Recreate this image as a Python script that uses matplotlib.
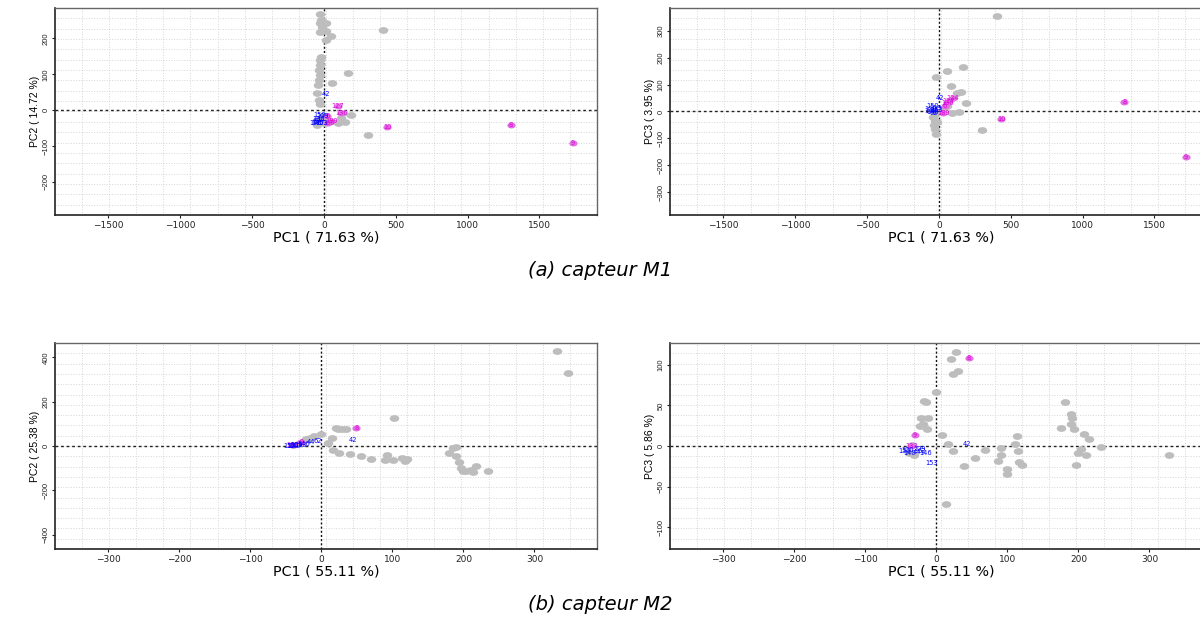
import numpy as np
import matplotlib
matplotlib.use("Agg")
import matplotlib.pyplot as plt
from matplotlib.markers import MarkerStyle
from matplotlib.transforms import Affine2D

plt.rcParams['font.family'] = ['DejaVu Sans']

# ---- data ----
# capteur M1, PC1 vs PC2
m1a_gray_x = [-30, -19, -30, 16, -12, 16, -30, 51, 16, 413, -19, -26, -30, -35, -30, -35, -40, -44,
              -35, -30, 168, 58, 133, 191, 121, 145, 98, 310, -50, -45, -20, -10, 5, 20]
m1a_gray_y = [268, 252, 243, 243, 233, 221, 219, 208, 196, 224, 149, 140, 126, 112, 98, 84, 70, 47,
              28, 16, 103, 75, -9, -14, -23, -33, -37, -68, -40, -30, -25, -20, -35, -30]
m1a_blue_lab = ["42", "150", "109", "100", "44", "140", "146", "153", "62"]
m1a_blue_x = [16, -30, -10, -35, -20, -42, -60, -15, -50]
m1a_blue_y = [44, -14, -16, -24, -28, -37, -37, -36, -30]
m1a_mag_lab = ["127", "136", "6", "189", "160", "10", "8", "9"]
m1a_mag_x = [98, 121, 23, 51, 30, 440, 1300, 1730]
m1a_mag_y = [12, -7, -17, -31, -35, -48, -42, -90]

# capteur M1, PC1 vs PC3
m1b_gray_x = [407, 166, 54, -21, 86, 153, 126, 188, 139, 91, 300, -40, -30, -35, -25, -20, -30, -15, 30, 60]
m1b_gray_y = [355, 165, 150, 127, 94, 72, 68, 32, -2, -6, -68, -22, -35, -50, -65, -84, -10, -40, 10, 20]
m1b_blue_lab = ["42", "150", "109", "100", "44", "140", "146", "153", "62"]
m1b_blue_x = [10, -40, -20, -55, -30, -60, -45, -15, -35]
m1b_blue_y = [50, 20, 12, 8, 2, 0, -2, 5, -4]
m1b_mag_lab = ["124", "127", "136", "6", "189", "10", "8", "9"]
m1b_mag_x = [99, 70, 59, 40, 32, 434, 1290, 1720]
m1b_mag_y = [50, 40, 31, 20, -5, -27, 35, -169]

# capteur M2, PC1 vs PC2
m2a_gray_x = [332, 347, 102, 24, 29, 34, 20, 15, 0, 10, 16, 25, 41, 56, 70, 93, 90, 101, 113, 118, 121,
              179, 186, 190, 190, 194, 197, 200, 204, 210, 213, 218, 235, -22, -16, -11, -30, -40]
m2a_gray_y = [429, 328, 127, 79, 78, 75, 80, 37, 52, 15, -18, -30, -34, -45, -60, -40, -63, -64, -52, -67, -57,
              -30, -7, -3, -45, -72, -97, -112, -112, -108, -117, -90, -112, 30, 37, 45, 15, 5]
m2a_blue_lab = ["42", "44", "62", "146", "109", "100", "150", "140", "153"]
m2a_blue_x = [44, -15, -5, -25, -35, -40, -45, -38, -30]
m2a_blue_y = [26, 20, 22, 10, 5, 2, 0, -1, 3]
m2a_mag_lab = ["8", "9", "133"]
m2a_mag_x = [49, -28, -40]
m2a_mag_y = [82, 18, 5]

# capteur M2, PC1 vs PC3
m2b_gray_x = [27, 20, 31, 23, -1, -15, -17, -21, -12, -19, -23, -13, 8, 16, 24, 39, 55, 69, 91, 91, 87,
              100, 99, 114, 111, 115, 116, 120, 181, 189, 191, 189, 176, 194, 208, 215, 232, 203, 200,
              210, 196, 328, 14, -34, -32, -38]
m2b_gray_y = [116, 107, 93, 89, 67, 54, 55, 35, 35, 27, 25, 21, 14, 2, -6, -25, -15, -5, -2, -11, -18,
              -28, -35, 12, 2, -6, -20, -24, 54, 39, 35, 27, 22, 21, 15, 9, -1, -4, -9,
              -11, -24, -11, -72, 1, -11, -8]
m2b_blue_lab = ["42", "153", "109", "146", "100", "150", "140", "44", "62"]
m2b_blue_x = [43, -7, -24, -15, -40, -45, -38, -28, -20]
m2b_blue_y = [3, -21, -4, -9, -5, -6, -8, -7, -6]
m2b_mag_lab = ["8", "9", "133"]
m2b_mag_x = [46, -30, -35]
m2b_mag_y = [109, 13, 0]

GRAY = '#bdbdbd'
BLUE = '#0000ff'
MAG_DOT = '#e070e0'
MAG_TXT = '#dd00dd'

ell = MarkerStyle('o', transform=Affine2D().scale(1.4, 1.0))


def panel(rect, gx, gy, bl, bx, by, ml, mx, my, xlim, ylim, xticks, yticks, xlab, ylab):
    ax = fig.add_axes(rect)
    ax.set_xlim(xlim)
    ax.set_ylim(ylim)
    # R-like dotted grid, 20 cells each way
    for v in np.linspace(xlim[0], xlim[1], 21)[1:-1]:
        ax.axvline(v, color='#d6d6d6', ls=':', lw=0.7, zorder=0)
    for v in np.linspace(ylim[0], ylim[1], 21)[1:-1]:
        ax.axhline(v, color='#d6d6d6', ls=':', lw=0.7, zorder=0)
    ax.axhline(0, color='#222222', ls=(0, (2, 2)), lw=1.0, zorder=1)
    ax.axvline(0, color='#111111', ls=(0, (1.5, 1.5)), lw=1.0, zorder=1)

    ax.scatter(gx, gy, s=24, marker=ell, color=GRAY, linewidths=0, zorder=2)
    ax.scatter(mx, my, s=18, marker=ell, color=MAG_DOT, linewidths=0, zorder=3)
    for t, x, y in zip(ml, mx, my):
        ax.text(x, y, t, color=MAG_TXT, fontsize=4.8, ha='center', va='center', zorder=4)
    for t, x, y in zip(bl, bx, by):
        ax.text(x, y, t, color=BLUE, fontsize=4.8, ha='center', va='center', zorder=4)

    ax.set_xticks(xticks)
    ax.set_yticks(yticks)
    ax.tick_params(axis='x', labelsize=6.5, length=2, pad=2, colors='#222222')
    ax.tick_params(axis='y', labelsize=5.5, length=2, pad=2, colors='#222222')
    for lab in ax.get_yticklabels():
        lab.set_rotation(90)
        lab.set_va('center')
        lab.set_family('Liberation Sans')
    ax.set_xlabel(xlab, fontsize=10.3, labelpad=1)
    ax.set_ylabel(ylab, fontsize=7.5, family='Liberation Sans', labelpad=2)
    for s in ['left', 'bottom']:
        ax.spines[s].set_color('#222222')
        ax.spines[s].set_linewidth(1.2)
    for s in ['top', 'right']:
        ax.spines[s].set_color('#666666')
        ax.spines[s].set_linewidth(1.0)
    return ax


fig = plt.figure(figsize=(12, 6.24), dpi=100)

W = 0.4517
H = 0.332
panel([0.0458, 0.6554, W, H], m1a_gray_x, m1a_gray_y, m1a_blue_lab, m1a_blue_x, m1a_blue_y,
      m1a_mag_lab, m1a_mag_x, m1a_mag_y, (-1870, 1900), (-292, 285),
      [-1500, -1000, -500, 0, 500, 1000, 1500], [-200, -100, 0, 100, 200],
      "PC1 ( 71.63 %)", "PC2 ( 14.72 %)")
panel([0.5583, 0.6554, W, H], m1b_gray_x, m1b_gray_y, m1b_blue_lab, m1b_blue_x, m1b_blue_y,
      m1b_mag_lab, m1b_mag_x, m1b_mag_y, (-1870, 1900), (-385, 385),
      [-1500, -1000, -500, 0, 500, 1000, 1500], [-300, -200, -100, 0, 100, 200, 300],
      "PC1 ( 71.63 %)", "PC3 ( 3.95 %)")
panel([0.0458, 0.1202, W, 0.330], m2a_gray_x, m2a_gray_y, m2a_blue_lab, m2a_blue_x, m2a_blue_y,
      m2a_mag_lab, m2a_mag_x, m2a_mag_y, (-375, 388), (-464, 464),
      [-300, -200, -100, 0, 100, 200, 300], [-400, -200, 0, 200, 400],
      "PC1 ( 55.11 %)", "PC2 ( 25.38 %)")
panel([0.5583, 0.1202, W, 0.330], m2b_gray_x, m2b_gray_y, m2b_blue_lab, m2b_blue_x, m2b_blue_y,
      m2b_mag_lab, m2b_mag_x, m2b_mag_y, (-375, 388), (-127, 127),
      [-300, -200, -100, 0, 100, 200, 300], [-100, -50, 0, 50, 100],
      "PC1 ( 55.11 %)", "PC3 ( 5.86 %)")

fig.text(0.5, 1 - 270 / 624, "(a) capteur M1", fontsize=14, style='italic', ha='center', va='center')
fig.text(0.5, 1 - 605 / 624, "(b) capteur M2", fontsize=14, style='italic', ha='center', va='center')

fig.savefig("out.png", dpi=100)
